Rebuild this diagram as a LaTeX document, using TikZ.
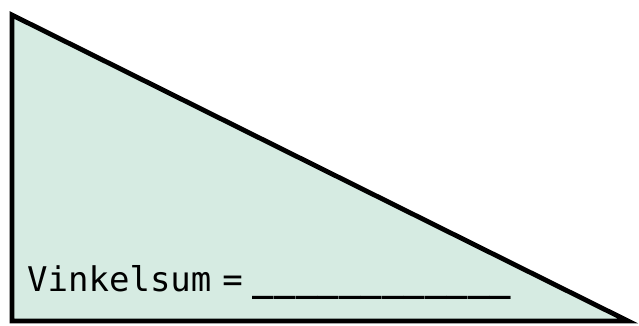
\documentclass[tikz,border=0pt]{standalone}
\usepackage{fontspec}
\newfontfamily\monofont{DejaVu Sans Mono}
\definecolor{palegreen}{RGB}{214,235,226}
\usetikzlibrary{positioning}

\begin{document}
\begin{tikzpicture}[x=1pt,y=1pt]
  \tikzstyle{tri}=[draw=black,line width=4.8pt,fill=palegreen,line join=miter]
  \tikzstyle{label}=[inner sep=0pt,anchor=base west,font=\monofont\fontsize{34}{40}\selectfont]
  \useasboundingbox (0,0) rectangle (639,326);
  \coordinate (top) at (12,311);
  \coordinate (corner) at (12,5);
  \coordinate (tip) at (628,5);
  \draw[tri] (top) -- (corner) -- (tip) -- cycle;
  \node[label] (sum) at (27,34) {Vinkelsum\hspace{11pt}=\hspace{10pt}\scalebox{1.053}[1]{\bfseries\_\_\_\_\_\_\_\_\_\_\_\_}};
\end{tikzpicture}
\end{document}
